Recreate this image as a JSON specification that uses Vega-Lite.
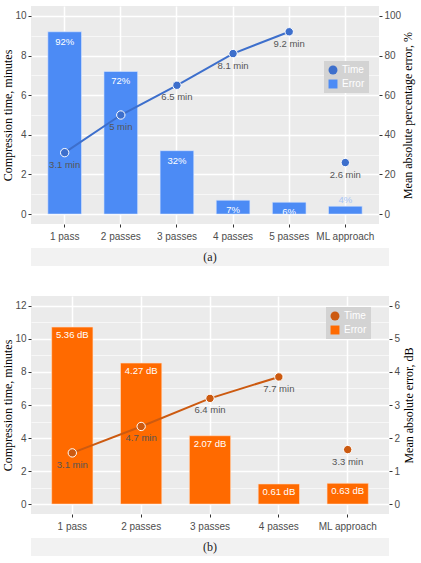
{
  "$schema": "https://vega.github.io/schema/vega-lite/v6.json",
  "padding": {"top": 6, "left": 1, "right": 3, "bottom": 3},
  "background": "white",
  "config": {
    "view": {"stroke": null, "fill": "#EBEBEB"},
    "axis": {
      "labelFont": "Liberation Sans", "labelFontSize": 10, "labelColor": "#4D4D4D",
      "titleFont": "Liberation Serif", "titleFontSize": 12, "titleFontWeight": "normal", "titleColor": "#000000",
      "domain": false, "tickColor": "#333333", "tickSize": 3, "gridColor": "#FFFFFF", "labelPadding": 2, "titlePadding": 0
    },
    "legend": {
      "orient": "none", "fillColor": "#D3D3D3", "padding": 4, "labelColor": "#FFFFFF",
      "labelFont": "Liberation Sans", "labelFontSize": 10, "symbolSize": 80, "rowPadding": 4, "symbolStrokeWidth": 0
    }
  },
  "resolve": {"scale": {"color": "independent", "shape": "independent"}},
  "spacing": 30,
  "vconcat": [
    {
      "spacing": 7,
      "vconcat": [
        {
          "width": 348, "height": 218,
          "data": {"values": [
            {"cat": "1 pass", "error": 92, "time": 3.1, "errLabel": "92%", "timeLabel": "3.1 min"},
            {"cat": "2 passes", "error": 72, "time": 5.0, "errLabel": "72%", "timeLabel": "5 min"},
            {"cat": "3 passes", "error": 32, "time": 6.5, "errLabel": "32%", "timeLabel": "6.5 min"},
            {"cat": "4 passes", "error": 7, "time": 8.1, "errLabel": "7%", "timeLabel": "8.1 min"},
            {"cat": "5 passes", "error": 6, "time": 9.2, "errLabel": "6%", "timeLabel": "9.2 min"},
            {"cat": "ML approach", "error": 4, "time": 2.6, "errLabel": "4%", "timeLabel": "2.6 min"}
          ]},
          "encoding": {
            "x": {"field": "cat", "type": "nominal", "sort": null,
              "scale": {"paddingInner": 0.4, "paddingOuter": 0.3},
              "axis": {"title": null, "labelAngle": 0, "grid": true, "gridWidth": 1.5, "labelPadding": 4}}
          },
          "resolve": {"scale": {"y": "independent"}},
          "layer": [
            {
              "encoding": {
                "y": {"field": "error", "type": "quantitative",
                  "scale": {"domain": [-5, 105], "nice": false, "zero": false},
                  "axis": {"orient": "right", "title": "Mean absolute percentage error, %", "titleAngle": 270, "titleBaseline": "top", "titlePadding": 2, "values": [0, 20, 40, 60, 80, 100], "grid": false}}
              },
              "layer": [
                {
                  "mark": {"type": "bar", "stroke": "#DCE8FD", "strokeWidth": 0.6},
                  "encoding": {
                    "color": {"datum": "Error", "type": "nominal",
                      "scale": {"domain": ["Time", "Error"], "range": ["#3D6FCC", "#4C8BF5"]},
                      "legend": {"title": null, "legendX": 293, "legendY": 55}}
                  }
                },
                {
                  "transform": [{"filter": "datum.cat !== 'ML approach'"}],
                  "mark": {"type": "text", "dy": 10, "color": "#FFFFFF", "font": "Liberation Sans", "fontSize": 9.5},
                  "encoding": {"text": {"field": "errLabel"}}
                },
                {
                  "transform": [{"filter": "datum.cat === 'ML approach'"}],
                  "mark": {"type": "text", "dy": -6, "color": "#A9C6F6", "font": "Liberation Sans", "fontSize": 9.5},
                  "encoding": {"text": {"field": "errLabel"}}
                }
              ]
            },
            {
              "encoding": {
                "y": {"field": "time", "type": "quantitative",
                  "scale": {"domain": [-0.5, 10.5], "nice": false, "zero": false},
                  "axis": {"orient": "left", "title": "Compression time, minutes",
                    "values": [0, 1, 2, 3, 4, 5, 6, 7, 8, 9, 10],
                    "labelExpr": "datum.value % 2 === 0 ? datum.label : ''",
                    "tickOpacity": {"condition": {"test": "datum.value % 2 === 1", "value": 0}, "value": 1},
                    "grid": true,
                    "gridWidth": {"condition": {"test": "datum.value % 2 === 1", "value": 0.6}, "value": 1.5}}}
              },
              "layer": [
                {
                  "transform": [{"filter": "datum.cat !== 'ML approach'"}],
                  "mark": {"type": "line", "color": "#3D6FCC", "strokeWidth": 2}
                },
                {
                  "mark": {"type": "point", "filled": true, "stroke": "#FFFFFF", "strokeWidth": 1, "size": 70, "opacity": 1},
                  "encoding": {
                    "color": {"datum": "Time", "type": "nominal",
                      "scale": {"domain": ["Time", "Error"], "range": ["#3D6FCC", "#4C8BF5"]},
                      "legend": {"title": null, "legendX": 293, "legendY": 55}},
                    "shape": {"datum": "Time", "type": "nominal",
                      "scale": {"domain": ["Time", "Error"], "range": ["circle", "square"]},
                      "legend": {"title": null, "legendX": 293, "legendY": 55}}
                  }
                },
                {
                  "mark": {"type": "text", "dy": 12, "color": "#555555", "font": "Liberation Sans", "fontSize": 9.5},
                  "encoding": {"text": {"field": "timeLabel"}}
                }
              ]
            }
          ]
        },
        {
          "width": 358, "height": 18,
          "view": {"fill": "#F2F2F2", "stroke": null},
          "data": {"values": [{"caption": "(a)"}]},
          "mark": {"type": "text", "font": "Liberation Serif", "fontSize": 12, "color": "#222222"},
          "encoding": {"text": {"field": "caption"}}
        }
      ]
    },
    {
      "spacing": 7,
      "vconcat": [
        {
          "width": 358, "height": 218,
          "data": {"values": [
            {"cat": "1 pass", "error": 5.36, "time": 3.1, "errLabel": "5.36 dB", "timeLabel": "3.1 min"},
            {"cat": "2 passes", "error": 4.27, "time": 4.7, "errLabel": "4.27 dB", "timeLabel": "4.7 min"},
            {"cat": "3 passes", "error": 2.07, "time": 6.4, "errLabel": "2.07 dB", "timeLabel": "6.4 min"},
            {"cat": "4 passes", "error": 0.61, "time": 7.7, "errLabel": "0.61 dB", "timeLabel": "7.7 min"},
            {"cat": "ML approach", "error": 0.63, "time": 3.3, "errLabel": "0.63 dB", "timeLabel": "3.3 min"}
          ]},
          "encoding": {
            "x": {"field": "cat", "type": "nominal", "sort": null,
              "scale": {"paddingInner": 0.4, "paddingOuter": 0.3},
              "axis": {"title": null, "labelAngle": 0, "grid": true, "gridWidth": 1.5, "labelPadding": 4}}
          },
          "resolve": {"scale": {"y": "independent"}},
          "layer": [
            {
              "encoding": {
                "y": {"field": "error", "type": "quantitative",
                  "scale": {"domain": [-0.3, 6.3], "nice": false, "zero": false},
                  "axis": {"orient": "right", "title": "Mean absolute error, dB", "titleAngle": 270, "titleBaseline": "top", "titlePadding": 4, "values": [0, 1, 2, 3, 4, 5, 6], "grid": false}}
              },
              "layer": [
                {
                  "mark": {"type": "bar", "stroke": "#FFE1CC", "strokeWidth": 0.6},
                  "encoding": {
                    "color": {"datum": "Error", "type": "nominal",
                      "scale": {"domain": ["Time", "Error"], "range": ["#CC5A10", "#FF6A00"]},
                      "legend": {"title": null, "legendX": 295, "legendY": 11}}
                  }
                },
                {
                  "mark": {"type": "text", "dy": 8, "color": "#FFFFFF", "font": "Liberation Sans", "fontSize": 9.5},
                  "encoding": {"text": {"field": "errLabel"}}
                }
              ]
            },
            {
              "encoding": {
                "y": {"field": "time", "type": "quantitative",
                  "scale": {"domain": [-0.6, 12.6], "nice": false, "zero": false},
                  "axis": {"orient": "left", "title": "Compression time, minutes",
                    "values": [0, 1, 2, 3, 4, 5, 6, 7, 8, 9, 10, 11, 12],
                    "labelExpr": "datum.value % 2 === 0 ? datum.label : ''",
                    "tickOpacity": {"condition": {"test": "datum.value % 2 === 1", "value": 0}, "value": 1},
                    "grid": true,
                    "gridWidth": {"condition": {"test": "datum.value % 2 === 1", "value": 0.6}, "value": 1.5}}}
              },
              "layer": [
                {
                  "transform": [{"filter": "datum.cat !== 'ML approach'"}],
                  "mark": {"type": "line", "color": "#CC5A10", "strokeWidth": 2}
                },
                {
                  "mark": {"type": "point", "filled": true, "stroke": "#FFFFFF", "strokeWidth": 1, "size": 70, "opacity": 1},
                  "encoding": {
                    "color": {"datum": "Time", "type": "nominal",
                      "scale": {"domain": ["Time", "Error"], "range": ["#CC5A10", "#FF6A00"]},
                      "legend": {"title": null, "legendX": 295, "legendY": 11}},
                    "shape": {"datum": "Time", "type": "nominal",
                      "scale": {"domain": ["Time", "Error"], "range": ["circle", "square"]},
                      "legend": {"title": null, "legendX": 295, "legendY": 11}}
                  }
                },
                {
                  "mark": {"type": "text", "dy": 12, "color": "#555555", "font": "Liberation Sans", "fontSize": 9.5},
                  "encoding": {"text": {"field": "timeLabel"}}
                }
              ]
            }
          ]
        },
        {
          "width": 358, "height": 18,
          "view": {"fill": "#F2F2F2", "stroke": null},
          "data": {"values": [{"caption": "(b)"}]},
          "mark": {"type": "text", "font": "Liberation Serif", "fontSize": 12, "color": "#222222"},
          "encoding": {"text": {"field": "caption"}}
        }
      ]
    }
  ]
}
